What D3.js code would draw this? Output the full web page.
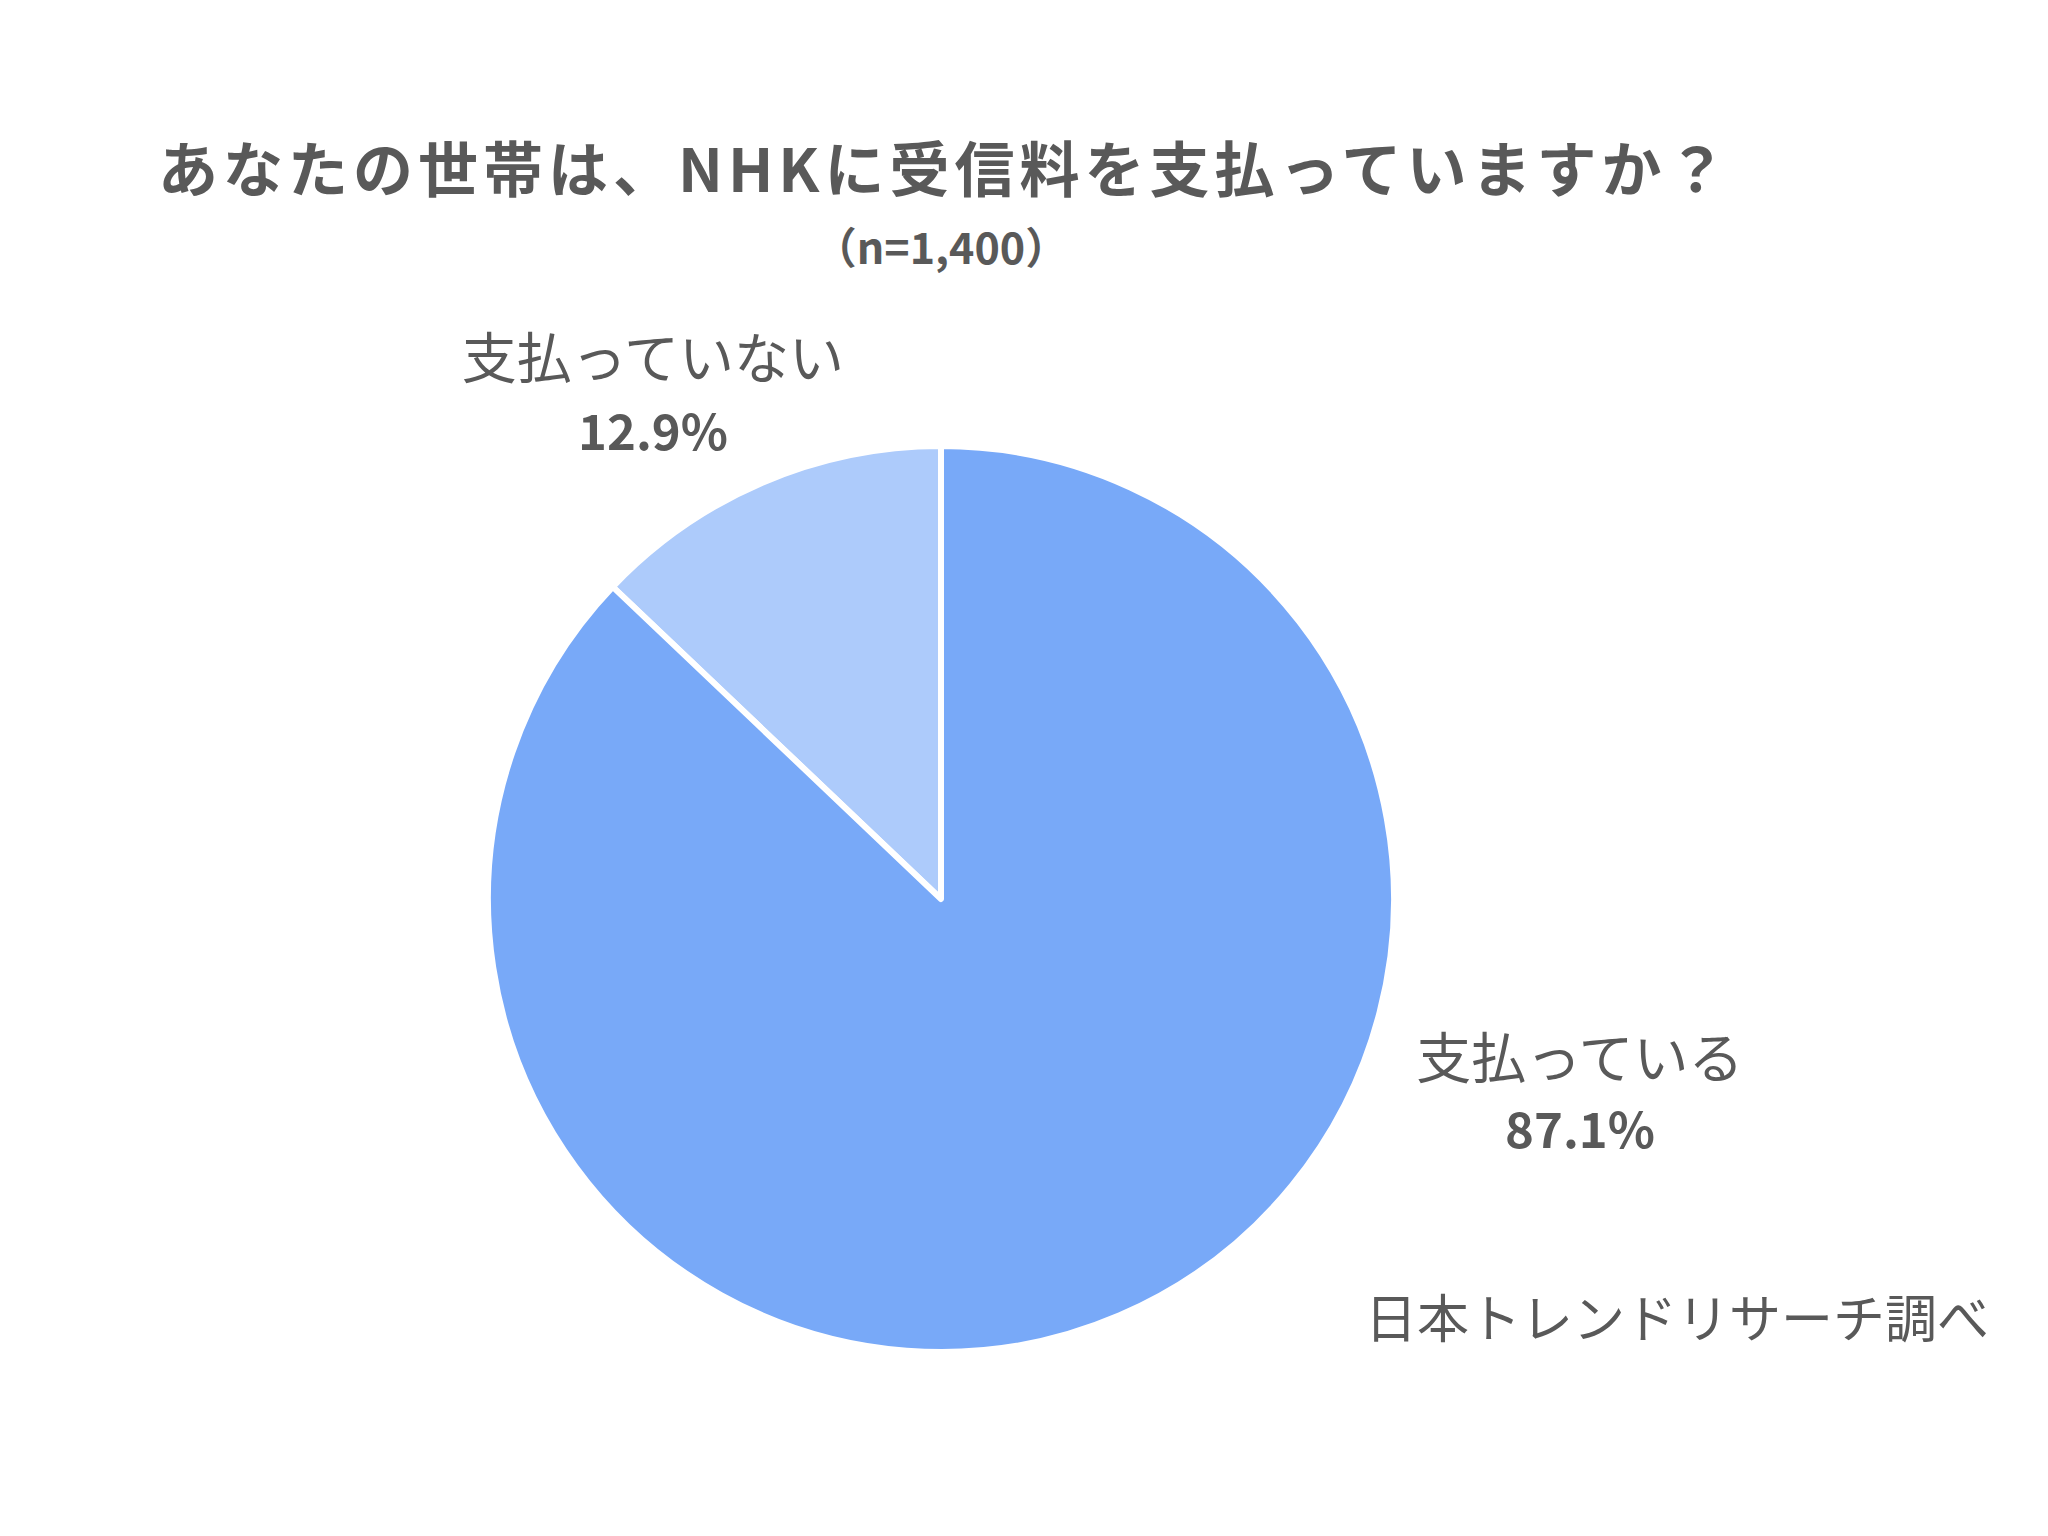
<!DOCTYPE html>
<html>
<head>
<meta charset="utf-8">
<script src="https://cdn.jsdelivr.net/npm/d3@7"></script>
<style>
  body { margin: 0; background: #fff; }
  text { font-family: "Noto Sans CJK JP", "Noto Sans", sans-serif; fill: #595959; }
</style>
</head>
<body>
<svg id="chart" width="2048" height="1536"></svg>
<script>
// data
const labels = ['支払っていない', '支払っている'];
const values = [12.9, 87.1];
const colors = ['#adcbfb', '#78a9f8'];

const svg = d3.select('#chart');
const cx = 941, cy = 899, r = 453;

svg.append('text')
  .attr('x', 158).attr('y', 192)
  .style('font-size', '60px').style('font-weight', 'bold')
  .style('letter-spacing', '5px')
  .text('あなたの世帯は、NHKに受信料を支払っていますか？');

svg.append('text')
  .attr('x', cx).attr('y', 264).attr('text-anchor', 'middle')
  .style('font-size', '43px').style('font-weight', 'bold')
  .text('（n=1,400）');

const total = d3.sum(values);
const pie = d3.pie().sort(null)
  .startAngle(-values[0] / total * 2 * Math.PI)
  .endAngle(2 * Math.PI - values[0] / total * 2 * Math.PI);
const arc = d3.arc().innerRadius(0).outerRadius(r);

const g = svg.append('g').attr('transform', `translate(${cx},${cy})`);
g.selectAll('path')
  .data(pie(values))
  .join('path')
  .attr('d', arc)
  .attr('fill', (d, i) => colors[i])
  .attr('stroke', '#fff')
  .attr('stroke-width', 6)
  .attr('stroke-linejoin', 'round');

// labels
const labelPos = [[653, 378, 450], [1580, 1078, 1148]];
labels.forEach((l, i) => {
  const [x, y1, y2] = labelPos[i];
  svg.append('text').attr('x', x).attr('y', y1).attr('text-anchor', 'middle')
    .style('font-size', '55px').text(l);
  svg.append('text').attr('x', x).attr('y', y2).attr('text-anchor', 'middle')
    .style('font-size', '49px').style('font-weight', 'bold')
    .text(values[i].toFixed(1) + '%');
});

svg.append('text')
  .attr('x', 1365).attr('y', 1338)
  .style('font-size', '52px')
  .text('日本トレンドリサーチ調べ');
</script>
</body>
</html>
